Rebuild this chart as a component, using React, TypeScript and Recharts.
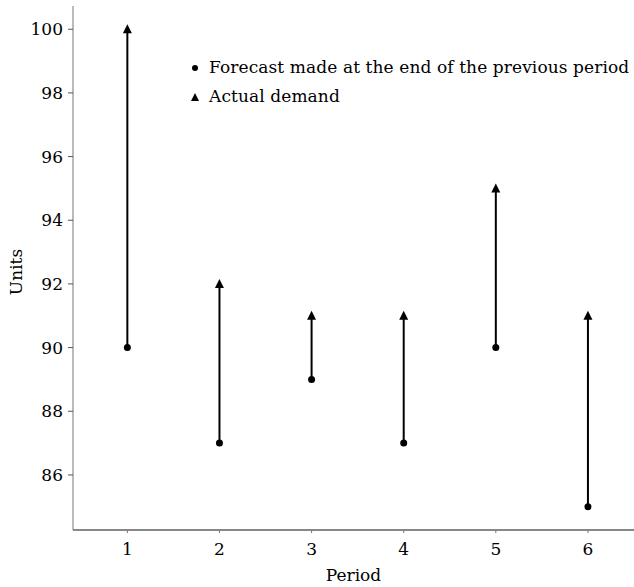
import { ComposedChart, Scatter, XAxis, YAxis, ReferenceLine } from "recharts";

const periods = [1, 2, 3, 4, 5, 6];
const forecast = [90, 87, 89, 87, 90, 85];
const actual = [100, 92, 91, 91, 95, 91];
const yTicks = [86, 88, 90, 92, 94, 96, 98, 100];

const forecastData = periods.map((p, i) => ({ period: p, units: forecast[i] }));
const actualData = periods.map((p, i) => ({ period: p, units: actual[i] }));

const FONT = "'DejaVu Serif', serif";
const FS = 17;

const Dot = (props: any) => <circle cx={props.cx} cy={props.cy} r={3.5} fill="#000" />;

const Tri = (props: any) => {
  const { cx, cy } = props;
  return <polygon points={`${cx},${cy - 5} ${cx - 4.5},${cy + 4} ${cx + 4.5},${cy + 4}`} fill="#000" />;
};

const LegendBox = () => (
  <div
    style={{
      position: "absolute",
      left: 189,
      top: 53,
      fontFamily: FONT,
      fontSize: FS,
      color: "#000",
      lineHeight: "29px",
      whiteSpace: "nowrap",
      letterSpacing: 0.1,
    }}
  >
    <div style={{ display: "flex", alignItems: "center" }}>
      <svg width={12} height={12} style={{ marginRight: 8 }}>
        <circle cx={6} cy={6} r={3} fill="#000" />
      </svg>
      Forecast made at the end of the previous period
    </div>
    <div style={{ display: "flex", alignItems: "center" }}>
      <svg width={12} height={12} style={{ marginRight: 8 }}>
        <polygon points="6,2 2,10 10,10" fill="#000" />
      </svg>
      Actual demand
    </div>
  </div>
);

export default function App() {
  return (
    <div style={{ position: "relative", width: 634, height: 587, fontFamily: FONT }}>
      <style>{"body{margin:0}"}</style>
      <ComposedChart width={634} height={587} margin={{ top: 6, right: 0, bottom: 0, left: 0 }}>
        <XAxis
          dataKey="period"
          type="number"
          domain={[0.41, 6.5]}
          ticks={periods}
          allowDataOverflow
          height={57}
          tickSize={3}
          tickMargin={10}
          axisLine={{ stroke: "#111" }}
          tickLine={{ stroke: "#777" }}
          tick={{ fill: "#000", fontSize: FS, fontFamily: FONT }}
          label={{
            content: ({ viewBox }: any) => (
              <text
                x={viewBox.x + viewBox.width / 2}
                y={viewBox.y + 51}
                textAnchor="middle"
                fill="#000"
                fontSize={FS}
                fontFamily={FONT}
              >
                Period
              </text>
            ),
          }}
        />
        <YAxis
          dataKey="units"
          type="number"
          domain={[84.27, 100.73]}
          ticks={yTicks}
          allowDataOverflow
          width={73}
          tickSize={5}
          tickMargin={5}
          axisLine={{ stroke: "#777" }}
          tickLine={{ stroke: "#555" }}
          tick={{ fill: "#000", fontSize: FS, fontFamily: FONT }}
          label={{
            content: ({ viewBox }: any) => {
              const cx = viewBox.x + 22;
              const cy = viewBox.y + viewBox.height / 2 + 4;
              return (
                <text
                  x={cx}
                  y={cy}
                  textAnchor="middle"
                  transform={`rotate(-90, ${cx}, ${cy})`}
                  fill="#000"
                  fontSize={FS}
                  fontFamily={FONT}
                >
                  Units
                </text>
              );
            },
          }}
        />
        {periods.map((p, i) => (
          <ReferenceLine
            key={p}
            segment={[
              { x: p, y: forecast[i] },
              { x: p, y: actual[i] },
            ]}
            stroke="#000"
            strokeWidth={2}
            ifOverflow="visible"
          />
        ))}
        <Scatter name="Forecast" data={forecastData} shape={Dot} isAnimationActive={false} />
        <Scatter name="Actual demand" data={actualData} shape={Tri} isAnimationActive={false} />
      </ComposedChart>
      <LegendBox />
    </div>
  );
}
